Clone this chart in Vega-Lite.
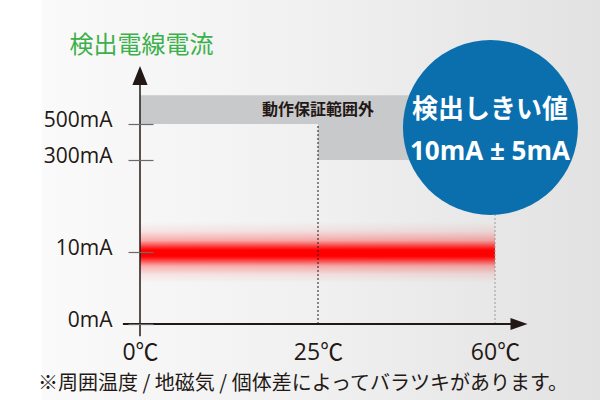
{
  "$schema": "https://vega.github.io/schema/vega-lite/v6.json",
  "width": 600,
  "height": 400,
  "autosize": "none",
  "padding": 0,
  "background": "#ffffff",
  "config": {
    "view": {
      "stroke": null,
      "fill": {
        "gradient": "linear", "x1": 0, "y1": 0, "x2": 1, "y2": 0,
        "stops": [
          {"offset": 0, "color": "#ffffff"},
          {"offset": 0.069, "color": "#ffffff"},
          {"offset": 0.0705, "color": "#fafafa"},
          {"offset": 0.5, "color": "#f1f1f1"},
          {"offset": 1, "color": "#e2e2e2"}
        ]
      }
    }
  },
  "encoding": {
    "x": {
      "field": "x", "type": "quantitative",
      "scale": {"domain": [0, 25, 60], "range": [140, 318, 495], "zero": false, "nice": false},
      "axis": {
        "orient": "bottom", "offset": -76, "values": [0, 25, 60],
        "labelExpr": "datum.value + '℃'",
        "domain": false, "ticks": false, "grid": false,
        "labelFont": "Open Sans, Noto Sans CJK JP", "labelFontSize": 23, "labelColor": "#231815",
        "labelBaseline": "middle", "labelPadding": 28, "labelFlush": false, "labelOverlap": false,
        "title": null
      }
    },
    "y": {
      "field": "y", "type": "quantitative",
      "scale": {"domain": [0, 10, 300, 500], "range": [324, 252, 160, 124], "zero": false, "nice": false},
      "axis": {
        "orient": "left", "offset": -153, "values": [0, 10, 300, 500],
        "labelExpr": "datum.value + 'mA'",
        "domain": false, "grid": false, "ticks": true, "tickSize": 25, "tickColor": "#6b6b6b", "tickWidth": 1.2,
        "labelFont": "Open Sans, Noto Sans CJK JP", "labelFontSize": 21, "labelColor": "#231815",
        "labelPadding": 16, "labelOffset": -4, "labelFlush": false, "labelOverlap": false,
        "zindex": 1,
        "title": "検出電線電流", "titleAngle": 0, "titleX": -12, "titleY": 45,
        "titleAlign": "center", "titleBaseline": "middle",
        "titleFont": "Noto Sans CJK JP", "titleFontSize": 24, "titleFontWeight": "normal", "titleColor": "#3cb04a"
      }
    }
  },
  "layer": [
    {
      "data": {"values": [
        {"x": 0, "x2": 25, "y": 500, "y2": 660},
        {"x": 25, "x2": 60, "y": 300, "y2": 660}
      ]},
      "mark": {"type": "rect", "fill": "#c8c9ca"},
      "encoding": {"x2": {"field": "x2"}, "y2": {"field": "y2"}}
    },
    {
      "data": {"values": [{"x": 0, "x2": 60, "y": 5.7, "y2": 104}]},
      "mark": {
        "type": "rect",
        "fill": {
          "gradient": "linear", "x1": 0, "y1": 0, "x2": 0, "y2": 1,
          "stops": [
            {"offset": 0, "color": "rgba(255,0,0,0)"},
            {"offset": 0.15, "color": "rgba(255,0,0,0.08)"},
            {"offset": 0.3, "color": "rgba(255,0,0,0.3)"},
            {"offset": 0.42, "color": "rgba(255,0,0,0.85)"},
            {"offset": 0.46, "color": "rgba(255,0,0,1)"},
            {"offset": 0.56, "color": "rgba(255,0,0,1)"},
            {"offset": 0.6, "color": "rgba(255,0,0,0.85)"},
            {"offset": 0.72, "color": "rgba(255,0,0,0.3)"},
            {"offset": 0.86, "color": "rgba(255,0,0,0.08)"},
            {"offset": 1, "color": "rgba(255,0,0,0)"}
          ]
        }
      },
      "encoding": {"x2": {"field": "x2"}, "y2": {"field": "y2"}}
    },
    {
      "data": {"values": [{"x": 25, "y": 0, "y2": 500}]},
      "mark": {"type": "rule", "stroke": "#231815", "strokeWidth": 1, "strokeDash": [2, 2]},
      "encoding": {"y2": {"field": "y2"}}
    },
    {
      "data": {"values": [{"x": 60, "y": 0, "y2": 300}]},
      "mark": {"type": "rule", "stroke": "#9a9a9a", "strokeWidth": 1, "strokeDash": [2, 2]},
      "encoding": {"y2": {"field": "y2"}}
    },
    {
      "data": {"values": [{"x": 0, "y": -1.7, "y2": 716}]},
      "mark": {"type": "rule", "stroke": "#231815", "strokeWidth": 1.5},
      "encoding": {"y2": {"field": "y2"}}
    },
    {
      "data": {"values": [{"x": -2.4, "x2": 63.2, "y": 0}]},
      "mark": {"type": "rule", "stroke": "#231815", "strokeWidth": 2},
      "encoding": {"x2": {"field": "x2"}}
    },
    {
      "data": {"values": [{"x": 0, "y": 769}]},
      "mark": {"type": "point", "shape": "M0,-1L0.8,1L-0.8,1Z", "size": 361, "filled": true, "fill": "#231815", "stroke": null, "opacity": 1}
    },
    {
      "data": {"values": [{"x": 64.75, "y": 0}]},
      "mark": {"type": "point", "shape": "M1,0L-1,-0.7L-1,0.7Z", "size": 289, "filled": true, "fill": "#231815", "stroke": null, "opacity": 1}
    },
    {
      "data": {"values": [{"x": 25, "y": 578, "label": "動作保証範囲外"}]},
      "mark": {"type": "text", "font": "Noto Sans CJK JP", "fontSize": 16, "fontWeight": "bold", "fill": "#231815", "align": "center", "baseline": "middle"},
      "encoding": {"text": {"field": "label"}}
    },
    {
      "data": {"values": [{"x": 59.1, "y": 480.5}]},
      "mark": {"type": "point", "shape": "circle", "size": 30625, "filled": true, "fill": "#0b6fae", "stroke": null, "opacity": 1}
    },
    {
      "data": {"values": [
        {"x": 59, "y": 578, "label": "検出しきい値"},
        {"x": 59, "y": 344, "label": "10mA ± 5mA"}
      ]},
      "mark": {"type": "text", "font": "Open Sans, Noto Sans CJK JP", "fontSize": 26, "fontWeight": "bold", "fill": "#ffffff", "align": "center", "baseline": "middle"},
      "encoding": {"text": {"field": "label"}}
    },
    {
      "data": {"values": [{"x": 22.9, "y": -8.4, "label": "※周囲温度 / 地磁気 / 個体差によってバラツキがあります。"}]},
      "mark": {"type": "text", "font": "Noto Sans CJK JP", "fontSize": 20, "fill": "#231815", "align": "center", "baseline": "middle"},
      "encoding": {"text": {"field": "label"}}
    }
  ]
}
